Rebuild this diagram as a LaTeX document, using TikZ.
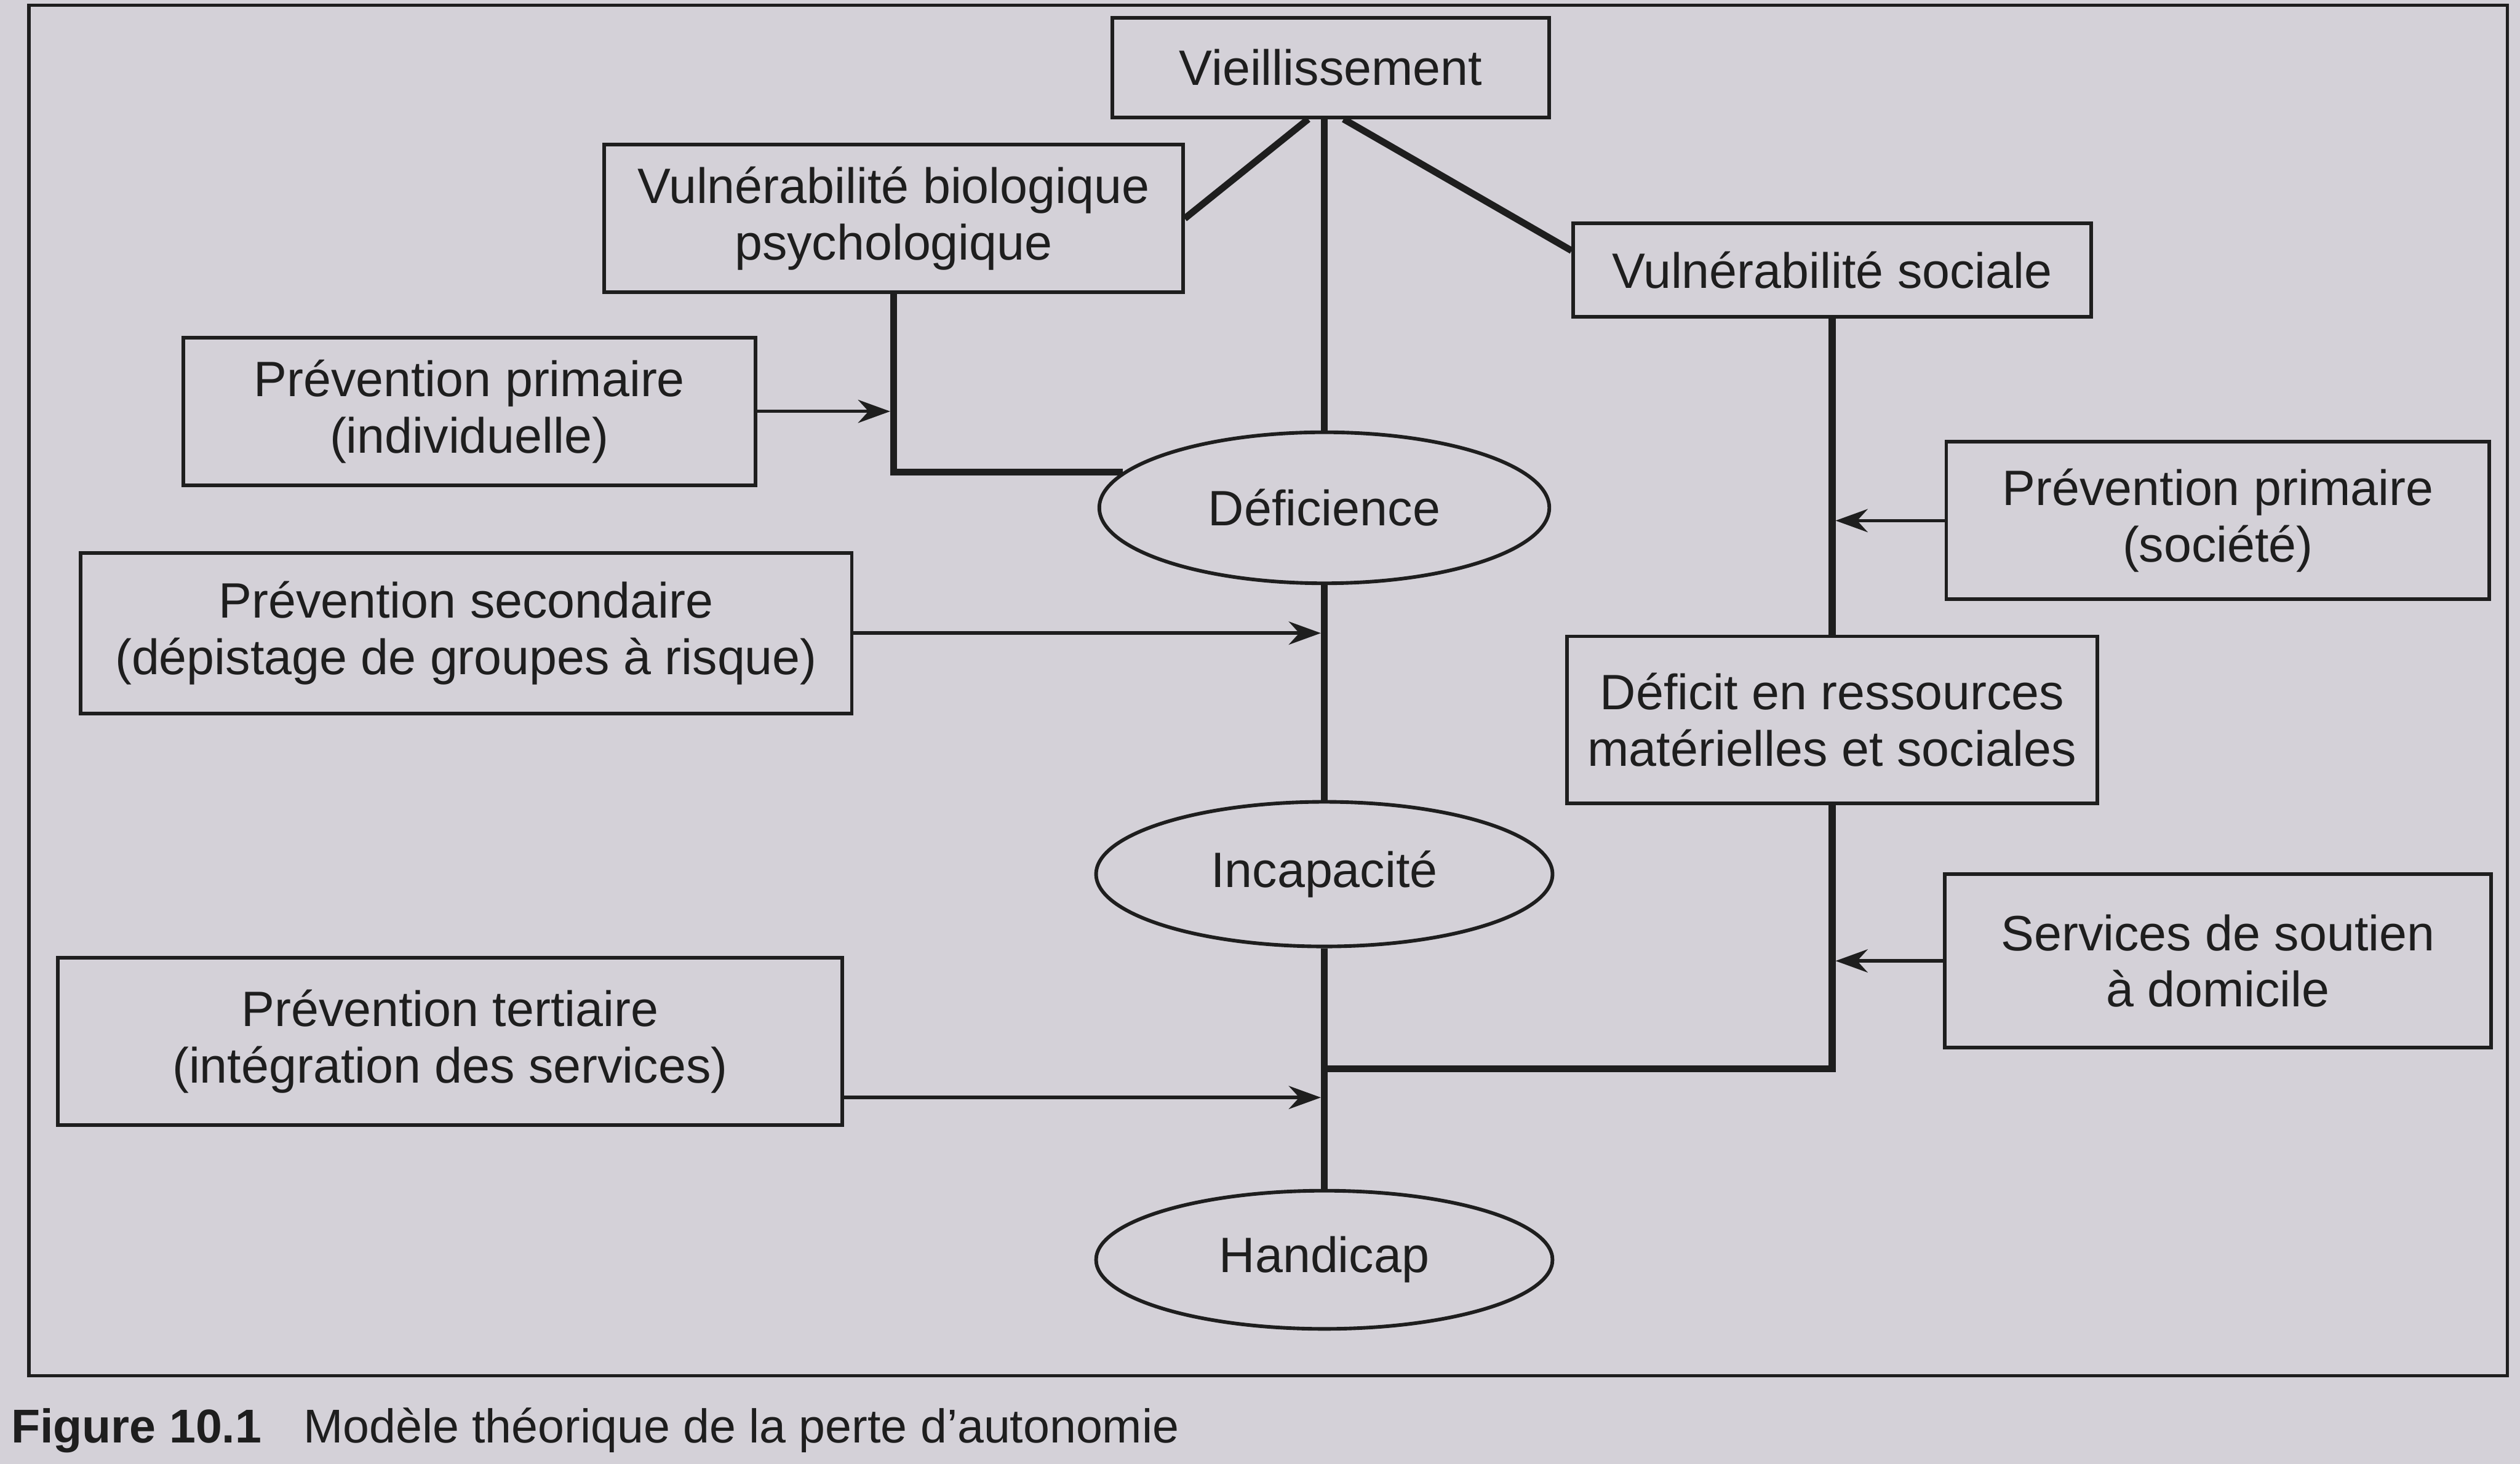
\documentclass[tikz,border=0pt]{standalone}
\usepackage{fontspec}
\setmainfont{Liberation Sans}
\usetikzlibrary{arrows.meta,shapes.geometric,calc}
\definecolor{paper}{RGB}{212,209,216}
\definecolor{ink}{RGB}{30,30,30}

\begin{document}
\begin{tikzpicture}[
    box/.style={draw=ink, line width=1.6pt, align=center, text=ink, font=\fontsize{22}{25}\selectfont},
    oval/.style={ellipse, draw=ink, line width=1.6pt, text=ink, font=\fontsize{22}{25}\selectfont},
    link/.style={draw=ink, line width=3pt},
    feed/.style={draw=ink, line width=1.5pt, shorten >=1.5pt, -{Stealth[length=0.5cm,width=0.36cm]}},
    capt/.style={anchor=base west, text=ink, font=\fontsize{21}{24}\selectfont},
  ]
    \useasboundingbox (0,0) rectangle (39.2,-22.775);
    \fill[paper] (0,0) rectangle (39.2,-22.775);
    \draw[ink, line width=1.4pt] (0.45,-0.08) rectangle (39.0,-21.4); % cadre

    \node[box, minimum width=6.8cm, minimum height=1.55cm] (viei) at (20.7,-1.05) {Vieillissement};
    \node[box, minimum width=9cm, minimum height=2.3cm] (vbio) at (13.9,-3.4) {Vulnérabilité biologique\\psychologique};
    \node[box, minimum width=8.05cm, minimum height=1.45cm] (vsoc) at (28.5,-4.2) {Vulnérabilité sociale};
    \node[box, minimum width=8.9cm, minimum height=2.3cm] (ppi) at (7.3,-6.4) {Prévention primaire\\(individuelle)};
    \node[oval, minimum width=7cm, minimum height=2.35cm] (def) at (20.6,-7.9) {Déficience};
    \node[box, minimum width=8.45cm, minimum height=2.45cm] (pps) at (34.5,-8.1) {Prévention primaire\\(société)};
    \node[box, minimum width=12cm, minimum height=2.5cm] (psec) at (7.25,-9.85) {Prévention secondaire\\(dépistage de groupes à risque)};
    \node[box, minimum width=8.25cm, minimum height=2.6cm] (defi) at (28.5,-11.2) {Déficit en ressources\\matérielles et sociales};
    \node[oval, minimum width=7.1cm, minimum height=2.25cm] (inc) at (20.6,-13.6) {Incapacité};
    \node[box, minimum width=8.5cm, minimum height=2.7cm] (serv) at (34.5,-14.95) {Services de soutien\\à domicile};
    \node[box, minimum width=12.2cm, minimum height=2.6cm] (pter) at (7.0,-16.2) {Prévention tertiaire\\(intégration des services)};
    \node[oval, minimum width=7.1cm, minimum height=2.15cm] (hand) at (20.6,-19.6) {Handicap};

    \draw[link] (def.north |- viei.south) -- (def.north);
    \draw[link] ($(def.north |- viei.south)+(-0.25,0)$) -- (vbio.east);
    \draw[link] ($(def.north |- viei.south)+(0.3,0)$) -- ($(vsoc.west)+(0,0.3)$);
    \draw[link] (vbio.south) |- (def.170);
    \draw[feed] (ppi.east) -- (ppi.east -| vbio.south);
    \draw[link] (def.south) -- (inc.north);
    \draw[feed] (psec.east) -- (psec.east -| def.south);
    \draw[link] (inc.south) -- (hand.north);

    \coordinate (join) at ($(inc.south)!0.5!(hand.north)$);
    \coordinate (tip) at ($(join)+(0,-0.45)$);
    \draw[link] (vsoc.south) -- (defi.north);
    \draw[link] (defi.south) |- (join);
    \draw[feed] (pps.west) -- (pps.west -| vsoc.south);
    \draw[feed] (serv.west) -- (serv.west -| defi.south);
    \draw[feed] (tip -| pter.east) -- (tip);

    \node[capt, font=\fontsize{21}{24}\selectfont\bfseries] (figno) at (0.05,-22.45) {Figure 10.1};
    \node[capt] (figtitle) at ($(figno.base east)+(0.4,0)$) {Modèle théorique de la perte d'autonomie};
  \end{tikzpicture}
\end{document}
